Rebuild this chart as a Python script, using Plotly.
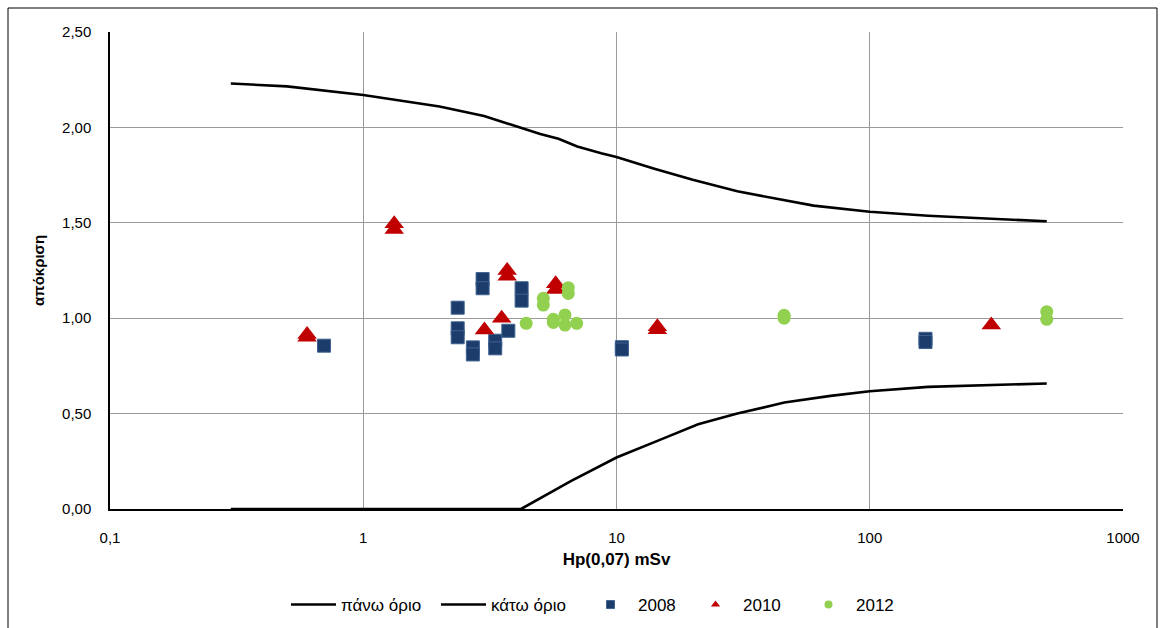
import plotly.graph_objects as go

# Upper and lower response limits vs. Hp(0,07)
upper_x = [0.3, 0.5, 1, 2, 3, 4.3, 5, 5.9, 7, 8.7, 10, 14, 20, 30, 60, 100, 170, 500]
upper_y = [2.23, 2.215, 2.17, 2.11, 2.06, 1.995, 1.965, 1.94, 1.90, 1.865, 1.845,
           1.785, 1.725, 1.665, 1.59, 1.558, 1.537, 1.508]

lower_x = [0.3, 4.2, 6.6, 10, 15, 21, 30, 46, 70, 100, 170, 500]
lower_y = [0, 0, 0.146, 0.27, 0.365, 0.444, 0.50, 0.558, 0.593, 0.617, 0.640, 0.658]

# Measured responses per year
x_2008 = [0.70, 2.36, 2.36, 2.36, 2.71, 2.71, 2.96, 2.96, 3.32, 3.32, 3.74,
          4.22, 4.22, 10.5, 10.5, 166, 166]
y_2008 = [0.856, 1.055, 0.947, 0.900, 0.847, 0.810, 1.205, 1.157, 0.882, 0.842,
          0.934, 1.157, 1.092, 0.848, 0.836, 0.892, 0.875]

x_2010 = [0.60, 0.60, 1.325, 1.325, 3.01, 3.52, 3.70, 3.70, 5.75, 5.75, 14.5, 14.5, 302]
y_2010 = [0.90, 0.915, 1.465, 1.495, 0.938, 1.0, 1.22, 1.25, 1.15, 1.18, 0.94, 0.955, 0.965]

x_2012 = [4.4, 5.14, 5.14, 5.63, 5.63, 6.26, 6.26, 6.45, 6.45, 6.96, 45.9, 45.9, 500, 500]
y_2012 = [0.973, 1.104, 1.069, 0.994, 0.978, 1.017, 0.964, 1.160, 1.130, 0.973,
          1.015, 1.0, 1.034, 0.994]

x_ticks = [0.1, 1, 10, 100, 1000]
x_tick_text = ["0,1", "1", "10", "100", "1000"]
y_ticks = [0, 0.5, 1.0, 1.5, 2.0, 2.5]

FONT = "Liberation Sans, Arial, sans-serif"
W, H = 1164, 628
L, R, T, B = 110, 41, 32, 119
PW, PH = W - L - R, H - T - B

SQUARE = dict(symbol="square", color="#1c3c6c", line=dict(color="#3f6190", width=1))
TRIANGLE = dict(symbol="triangle-up", color="#c00000", line=dict(width=0))
CIRCLE = dict(symbol="circle", color="#92d050", line=dict(width=0))

fig = go.Figure()
fig.add_trace(go.Scatter(x=upper_x, y=upper_y, mode="lines", name="πάνω όριο",
                         line=dict(color="black", width=2.6), legend="legend"))
fig.add_trace(go.Scatter(x=lower_x, y=lower_y, mode="lines", name="κάτω όριο",
                         line=dict(color="black", width=2.6), legend="legend2"))
fig.add_trace(go.Scatter(x=x_2008, y=y_2008, mode="markers", name="2008", showlegend=False,
                         marker=dict(size=13, **SQUARE)))
fig.add_trace(go.Scatter(x=x_2010, y=y_2010, mode="markers", name="2010", showlegend=False,
                         marker=dict(size=17, **TRIANGLE)))
fig.add_trace(go.Scatter(x=x_2012, y=y_2012, mode="markers", name="2012", showlegend=False,
                         marker=dict(size=13, **CIRCLE)))

# Legend keys with smaller symbols
for name, style, leg in [("2008", SQUARE, "legend3"), ("2010", TRIANGLE, "legend4"),
                         ("2012", CIRCLE, "legend5")]:
    fig.add_trace(go.Scatter(x=[None], y=[None], mode="markers", name=name,
                             marker=dict(size=8, **style), legend=leg))


def px_x(p):
    return (p - L) / PW


LEG_Y = (H - B - 605) / PH
leg_common = dict(orientation="h", yanchor="middle", y=LEG_Y, xanchor="left",
                  font=dict(size=17, family=FONT), bgcolor="rgba(0,0,0,0)",
                  itemwidth=45)

fig.update_layout(
    width=W, height=H,
    margin=dict(l=L, r=R, t=T, b=B, autoexpand=False),
    paper_bgcolor="white", plot_bgcolor="white",
    separators=",.",
    font=dict(family=FONT, size=15, color="black"),
    showlegend=True,
    legend=dict(x=px_x(286), **leg_common),
    legend2=dict(x=px_x(436), **leg_common),
    legend3=dict(x=px_x(583), **leg_common),
    legend4=dict(x=px_x(688), **leg_common),
    legend5=dict(x=px_x(801), **leg_common),
    xaxis=dict(type="log", range=[-1, 3], tickvals=x_ticks, ticktext=x_tick_text,
               showgrid=True, gridcolor="#9a9a9a", gridwidth=1, automargin=False,
               showline=True, linecolor="black", linewidth=1.5,
               ticks="", ticklabelstandoff=14,
               title=dict(text="<b>Hp(0,07) mSv</b>", font=dict(size=17), standoff=8)),
    yaxis=dict(range=[0, 2.5], tickvals=y_ticks, tickformat=".2f", automargin=False,
               showgrid=True, gridcolor="#9a9a9a", gridwidth=1, zeroline=False,
               showline=True, linecolor="black", linewidth=1.5,
               ticks="", ticklabelstandoff=14,
               title=dict(text="<b>απόκριση</b>", font=dict(size=15), standoff=14)),
)

# Outer chart frame
fig.add_shape(type="rect", xref="paper", yref="paper",
              x0=px_x(8), x1=px_x(1157), y0=-0.29, y1=(H - B - 8) / PH,
              line=dict(color="black", width=1), fillcolor="rgba(0,0,0,0)", layer="below")

fig.write_html("out.html")
